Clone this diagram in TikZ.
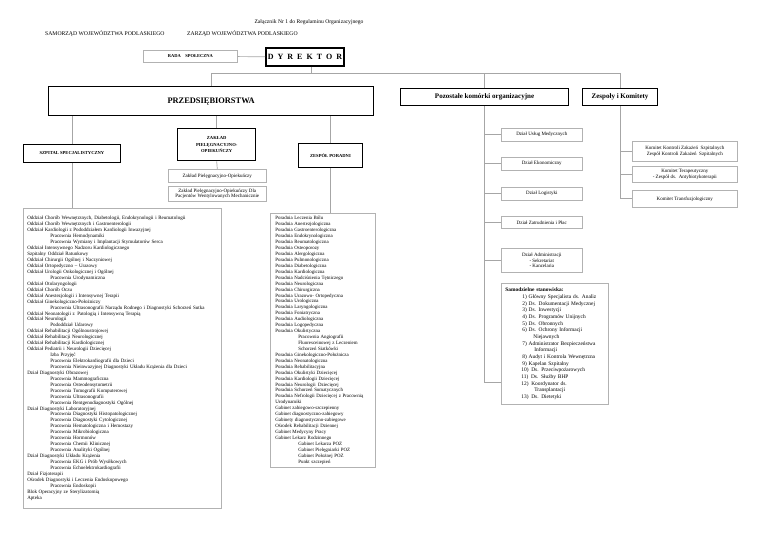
\documentclass[tikz,border=0pt]{standalone}
\usepackage{fontspec}
\setmainfont{Liberation Serif}
\usetikzlibrary{positioning}
\newcommand{\ind}{\hspace*{23pt}}

\begin{document}
\begin{tikzpicture}[x=1pt, y=-1pt,
    every node/.style={inner sep=1pt},
    box/.style={draw=gray!60, line width=0.6pt, anchor=north west, align=center,
        font=\fontsize{5}{5.6}\selectfont,
        path picture={\draw[black!70, line width=1.3pt] (path picture bounding box.north east) -- (path picture bounding box.south east) -- (path picture bounding box.south west);}},
    unit/.style={draw, line width=0.9pt, anchor=north west, align=center, font=\bfseries\fontsize{4.6}{6.4}\selectfont},
    head/.style={draw, line width=1.3pt, anchor=north west, align=center, font=\bfseries\fontsize{7}{8}\selectfont},
    list/.style={draw=gray!60, line width=0.7pt, anchor=north west, align=left, inner xsep=4pt,
        path picture={\draw[gray!90, line width=1.2pt] (path picture bounding box.north east) -- (path picture bounding box.south east) -- (path picture bounding box.south west);}},
    link/.style={draw=gray!70, line width=0.7pt}]
    \useasboundingbox (0,0) rectangle (768,543);

    % naglowek
    \node[font=\fontsize{5.6}{6}\selectfont] (zal) at (309,22) {Załącznik Nr 1 do Regulaminu Organizacyjnego};
    \node[font=\fontsize{5.7}{6}\selectfont, anchor=west] (samorzad) at (44,34) {SAMORZĄD WOJEWÓDZTWA PODLASKIEGO};
    \node[font=\fontsize{5.7}{6}\selectfont, anchor=west] (zarzad) at (186,34) {ZARZĄD WOJEWÓDZTWA PODLASKIEGO};

    \node[box, minimum width=94pt, minimum height=12pt, font=\bfseries\fontsize{4.5}{5}\selectfont] (rada) at (143,50) {RADA\enspace\enspace SPOŁECZNA};
    \node[draw, line width=2pt, anchor=north west, minimum width=78pt, minimum height=18pt, font=\bfseries\fontsize{8}{9}\selectfont] (dyr) at (265,47)
        {D\enspace Y\enspace R\enspace E\enspace K\enspace T\enspace O\enspace R};

    \node[head, minimum width=325pt, minimum height=29pt, font=\bfseries\fontsize{8.4}{9}\selectfont] (przeds) at (48,86) {PRZEDSIĘBIORSTWA};
    \node[head, line width=1.1pt, minimum width=168pt, minimum height=17pt] (pozostale) at (400,88) {Pozostałe komórki organizacyjne};
    \node[head, line width=1.1pt, minimum width=75pt, minimum height=17pt] (zespoly) at (582,88) {Zespoły i Komitety};

    % jednostki
    \node[unit, minimum width=97pt, minimum height=18pt] (szpital) at (23,144) {SZPITAL SPECJALISTYCZNY};
    \node[unit, line width=1.4pt, minimum width=78pt, minimum height=32pt] (zaklad) at (177,128) {ZAKŁAD\\PIELĘGNACYJNO-\\OPIEKUŃCZY};
    \node[unit, minimum width=64pt, minimum height=24pt] (poradni) at (298,143) {ZESPÓŁ PORADNI};
    \node[box, minimum width=98pt, minimum height=13pt] (zpo1) at (168,169) {Zakład Pielęgnacyjno-Opiekuńczy};
    \node[box, minimum width=98pt, minimum height=15pt] (zpo2) at (168,186) {Zakład Pielęgnacyjno-Opiekuńczy Dla\\Pacjentów Wentylowanych Mechanicznie};

    \node[list, text width=190pt, minimum height=300pt, font=\fontsize{5}{5.94}\selectfont] (lista) at (23,208) {%
Oddział Chorób Wewnętrznych, Diabetologii, Endokrynologii i Reumatologii\\
Oddział Chorób Wewnętrznych i Gastroenterologii\\
Oddział Kardiologii z Pododdziałem Kardiologii Inwazyjnej\\
\ind Pracownia Hemodynamiki\\
\ind Pracownia Wymiany i Implantacji Stymulatorów Serca\\
Oddział Intensywnego Nadzoru Kardiologicznego\\
Szpitalny Oddział Ratunkowy\\
Oddział Chirurgii Ogólnej i Naczyniowej\\
Oddział Ortopedyczno – Urazowy\\
Oddział Urologii Onkologicznej i Ogólnej\\
\ind Pracownia Urodynamiczna\\
Oddział Otolaryngologii\\
Oddział Chorób Oczu\\
Oddział Anestezjologii i Intensywnej Terapii\\
Oddział Ginekologiczno-Położniczy\\
\ind Pracownia Ultrasonografii Narządu Rodnego i Diagnostyki Schorzeń Sutka\\
Oddział Neonatologii z\enspace Patologią i Intensywną Terapią\\
Oddział Neurologii\\
\ind Pododdział Udarowy\\
Oddział Rehabilitacji Ogólnoustrojowej\\
Oddział Rehabilitacji Neurologicznej\\
Oddział Rehabilitacji Kardiologicznej\\
Oddział Pediatrii i Neurologii Dziecięcej\\
\ind Izba Przyjęć\\
\ind Pracownia Elektrokardiografii dla Dzieci\\
\ind Pracownia Nieinwazyjnej Diagnostyki Układu Krążenia dla Dzieci\\
Dział Diagnostyki Obrazowej\\
\ind Pracownia Mammograficzna\\
\ind Pracownia Osteodensytometrii\\
\ind Pracownia Tomografii Komputerowej\\
\ind Pracownia Ultrasonografii\\
\ind Pracownia Rentgenodiagnostyki Ogólnej\\
Dział Diagnostyki Laboratoryjnej\\
\ind Pracownia Diagnostyki Histopatologicznej\\
\ind Pracownia Diagnostyki Cytologicznej\\
\ind Pracownia Hematologiczna i Hemostazy\\
\ind Pracownia Mikrobiologiczna\\
\ind Pracownia Hormonów\\
\ind Pracownia Chemii Klinicznej\\
\ind Pracownia Analityki Ogólnej\\
Dział Diagnostyki Układu Krążenia\\
\ind Pracownia EKG i Prób Wysiłkowych\\
\ind Pracownia Echoelektrokardiografii\\
Dział Fizjoterapii\\
Ośrodek Diagnostyki i Leczenia Endoskopowego\\
\ind Pracownia Endoskopii\\
Blok Operacyjny ze Sterylizatornią\\
Apteka};

    \node[list, inner xsep=5pt, text width=95pt, minimum height=254pt, font=\fontsize{4.9}{5.93}\selectfont] (porlista) at (270,213) {%
Poradnia Leczenia Bólu\\
Poradnia Anestezjologiczna\\
Poradnia Gastroenterologiczna\\
Poradnia Endokrynologiczna\\
Poradnia Reumatologiczna\\
Poradnia Osteoporozy\\
Poradnia Alergologiczna\\
Poradnia Pulmonologiczna\\
Poradnia Diabetologiczna\\
Poradnia Kardiologiczna\\
Poradnia Nadciśnienia Tętniczego\\
Poradnia Neurologiczna\\
Poradnia Chirurgiczna\\
Poradnia Urazowo- Ortopedyczna\\
Poradnia Urologiczna\\
Poradnia Laryngologiczna\\
Poradnia Foniatryczna\\
Poradnia Audiologiczna\\
Poradnia Logopedyczna\\
Poradnia Okulistyczna\\
\ind Pracownia Angiografii\\
\ind Fluoresceinowej z Leczeniem\\
\ind Schorzeń Siatkówki\\
Poradnia Ginekologiczno-Położnicza\\
Poradnia Neonatologiczna\\
Poradnia Rehabilitacyjna\\
Poradnia Okulistyki Dziecięcej\\
Poradnia Kardiologii Dziecięcej\\
Poradnia Neurologii\enspace Dziecięcej\\
Poradnia Schorzeń Somatycznych\\
Poradnia Nefrologii Dziecięcej z Pracownią\\
Urodynamiki\\
Gabinet zabiegowo-szczepienny\\
Gabinet diagnostyczno-zabiegowy\\
Gabinety diagnostyczno-zabiegowe\\
Ośrodek Rehabilitacji Dziennej\\
Gabinet Medycyny Pracy\\
Gabinet Lekarz Rodzinnego\\
\ind Gabinet Lekarza POZ\\
\ind Gabinet Pielęgniarki POZ\\
\ind Gabinet Położnej POZ\\
\ind Punkt szczepień};

    % pozostale komorki
    \node[box, minimum width=81pt, minimum height=13pt] (uslugi) at (501,128) {Dział Usług Medycznych};
    \node[box, minimum width=81pt, minimum height=13pt] (ekonom) at (501,157) {Dział Ekonomiczny};
    \node[box, minimum width=81pt, minimum height=13pt] (logist) at (501,187) {Dział Logistyki};
    \node[box, minimum width=81pt, minimum height=12pt] (zatrud) at (501,216) {Dział Zatrudnienia i Płac};
    \node[box, minimum width=81pt, minimum height=24pt] (admin) at (501,248) {Dział Administracji\\- Sekretariat\\- Kancelaria};
    \node[list, text width=99pt, minimum height=121pt, font=\fontsize{5.4}{6.67}\selectfont] (samodz) at (501,283) {%
\textbf{Samodzielne stanowiska:}\\
\hspace*{17pt}1) Główny Specjalista ds. Analiz\\
\hspace*{17pt}2) Ds. Dokumentacji Medycznej\\
\hspace*{17pt}3) Ds. Inwestycji\\
\hspace*{17pt}4) Ds. Programów Unijnych\\
\hspace*{17pt}5) Ds. Obronnych\\
\hspace*{17pt}6) Ds. Ochrony Informacji\\
\hspace*{28pt}Niejawnych\\
\hspace*{17pt}7) Administrator Bezpieczeństwa\\
\hspace*{29pt}Informacji\\
\hspace*{17pt}8) Audyt i Kontrola Wewnętrzna\\
\hspace*{17pt}9) Kapelan Szpitalny\\
\hspace*{16pt}10)\enspace Ds. Przeciwpożarowych\\
\hspace*{16pt}11)\enspace Ds. Służby BHP\\
\hspace*{16pt}12)\enspace Koordynator ds.\\
\hspace*{29pt}Transplantacji\\
\hspace*{16pt}13)\enspace Ds. Dietetyki};

    % zespoly i komitety
    \node[box, minimum width=105pt, minimum height=20pt] (kontrola) at (632,141) {Komitet Kontroli Zakażeń\enspace Szpitalnych\\Zespół Kontroli Zakażeń\enspace Szpitalnych};
    \node[box, minimum width=105pt, minimum height=16pt] (terapia) at (632,166) {Komitet Terapeutyczny\\- Zespół ds.\enspace Antybiotykoterapii};
    \node[box, minimum width=105pt, minimum height=17pt] (transf) at (632,190) {Komitet Transfuzjologiczny};

    % polaczenia
    \coordinate (bus) at (311,73);
    \draw[link] (rada) -- (dyr);
    \draw[link] (dyr.south -| bus) -- (bus);
    \draw[link] (przeds.north) -- (przeds.north |- bus) -| (zespoly.north);
    \draw[link] (pozostale.north) -- (pozostale.north |- bus);
    \foreach \n in {szpital, zaklad, poradni}
        \draw[link] (\n.north) -- (\n.north |- przeds.south);
    \draw[link] (szpital.south) -- (szpital.south |- lista.north);
    \draw[link] (zaklad.south) -- (zpo1.north);
    \draw[link] (poradni.south) -- (poradni.south |- porlista.north);
    \draw[link] (pozostale.south) |- ([yshift=22pt]samodz.south west);
    \foreach \n in {uslugi, ekonom, logist, zatrud, admin}
        \draw[link] (\n.west) -- (\n.west -| pozostale.south);
    \draw[link] (zespoly.south) |- (transf.west);
    \foreach \n in {kontrola, terapia}
        \draw[link] (\n.west) -- (\n.west -| zespoly.south);
\end{tikzpicture}
\end{document}
